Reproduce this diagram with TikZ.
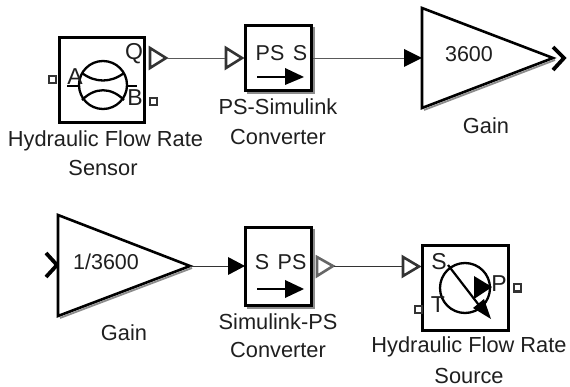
\documentclass[tikz,border=0pt]{standalone}
\usepackage{fontspec}
\setmainfont{Liberation Sans}
\definecolor{ink}{gray}{0.12}
\tikzset{
  lbl/.style={inner sep=0pt,text=ink,font=\fontsize{21.8}{22}\selectfont,align=center},
  inlbl/.style={inner sep=0pt,text=ink,font=\fontsize{21.5}{22}\selectfont},
  symlbl/.style={inner sep=0pt,text=ink,font=\fontsize{23}{24}\selectfont},
  blockbox/.style={draw=black,line width=2.6pt,fill=white,inner sep=0pt,minimum width=#1},
  shade/.style={draw=black!45,line width=1.8pt},
  wire/.style={draw=black!65,line width=0.9pt},
  hollow/.style={draw=black!80,line width=2.6pt,fill=white,line join=miter},
  chevron/.style={draw=black,line width=3.8pt,line join=miter},
  cport/.style={draw=black!80,line width=2pt,fill=white,inner sep=0pt,minimum size=7pt},
  thin symbol/.style={draw=black,line width=2.3pt},
  gainshape/.style={draw=black,line width=2.6pt,fill=white,line join=miter}
}
\begin{document}
\begin{tikzpicture}[x=1pt,y=-1pt]
\useasboundingbox[fill=white] (0,0) rectangle (570,387);
% ---- top row ----
\node[blockbox=85pt,minimum height=85pt] (sensor) at (102,80) {};
\draw[thin symbol] (103,85) circle (24);
\draw[thin symbol] (82,73) .. controls (95,83) and (111,83) .. (124,73);
\draw[thin symbol] (82,100) .. controls (95,87) and (111,87) .. (124,100);
\draw[thin symbol] (67,86) -- (80,86) (127,86) -- (137,86);
\node[symlbl] (sA) at (75,77) {A};
\node[symlbl] (sB) at (135,98) {B};
\node[symlbl] (sQ) at (134,54) {Q};
\node[cport] (sportA) at (52,80) {};
\node[cport] (sportB) at (153,102) {};
\node[lbl] (sensorlabel) at (105.5,141) {Hydraulic Flow Rate};
\node[lbl] (sensorlabelb) at (103,168) {Sensor};
\draw[hollow] (150,48) -- (166,58) -- (150,68) -- cycle;
\coordinate (qout) at (167,58);
\draw[hollow] (226,48) -- (242,58) -- (226,68) -- cycle;
\coordinate (psin) at (225,58);
\draw[wire] (qout) -- (psin);
\draw[shade] (314,27) -- (314,93) -- (247,93);
\node[blockbox=66pt,minimum height=65pt] (pss) at (278.5,58) {};
\node[inlbl] (pssa) at (270,53) {PS};
\node[inlbl] (pssb) at (300,53) {S};
\draw[line width=2pt] (257,77) -- (288,77);
\fill (285,68) -- (304,77) -- (285,85) -- cycle;
\node[lbl] (psslabel) at (278,107) {PS-Simulink};
\node[lbl] (psslabelb) at (278,136.5) {Converter};
\coordinate (pssout) at (313,58);
\coordinate (g1in) at (404,58);
\draw[wire] (pssout) -- (g1in);
\fill (404,49) -- (422,58) -- (404,67) -- cycle;
\draw[black!45,line width=1.8pt] (424,110) -- (555,60);
\draw[gainshape] (422,8) -- (553,58) -- (422,108) -- cycle;
\node[inlbl] (g1) at (469,54) {3600};
\node[lbl] (g1label) at (486,126) {Gain};
\draw[chevron] (553,47) -- (564,58) -- (553,70);
% ---- bottom row ----
\draw[chevron] (46,253) -- (57,265) -- (46,277);
\draw[black!45,line width=1.8pt] (60,318) -- (192,268);
\draw[gainshape] (58,215) -- (190,266) -- (58,316) -- cycle;
\node[inlbl] (g2) at (106,262) {1/3600};
\node[lbl] (g2label) at (124,333) {Gain};
\coordinate (g2out) at (190,266);
\coordinate (spin) at (228,266);
\draw[draw=black!80,line width=0.9pt] (g2out) -- (spin);
\fill (228,257) -- (245,266) -- (228,275) -- cycle;
\draw[shade] (314,229) -- (314,308) -- (247,308);
\node[blockbox=66pt,minimum height=78pt] (sps) at (278.5,266.5) {};
\node[inlbl] (spsa) at (262,262) {S};
\node[inlbl] (spsb) at (292,262) {PS};
\draw[line width=2pt] (257,289) -- (288,289);
\fill (285,280) -- (304,289) -- (285,298) -- cycle;
\node[lbl] (spslabel) at (278,322) {Simulink-PS};
\node[lbl] (spslabelb) at (278,350) {Converter};
\draw[black!60,line width=2.6pt,fill=white,line join=miter] (317,257) -- (333,266) -- (317,276) -- cycle;
\draw[hollow] (403,257) -- (419,266.5) -- (403,276) -- cycle;
\coordinate (spsout) at (334,266);
\coordinate (srcin) at (402,266);
\draw[draw=black!80,line width=0.9pt] (spsout) -- (srcin);
\node[blockbox=86pt,minimum height=85pt] (source) at (465.5,288) {};
\draw[thin symbol] (465,288) circle (25);
\draw[line width=2.2pt] (448,265) -- (485,313);
\fill (491,319) -- (473,308) -- (484,299) -- cycle;
\fill (474,276) -- (492,287) -- (474,299) -- cycle;
\node[symlbl] (srcS) at (439,262) {S};
\node[symlbl] (srcP) at (499,284) {P};
\node[symlbl] (srcT) at (438,305) {T};
\node[cport] (srcportP) at (517,288) {};
\node[cport] (srcportT) at (418,309) {};
\node[lbl] (srclabel) at (469,347) {Hydraulic Flow Rate};
\node[lbl] (srclabelb) at (469,376) {Source};
\end{tikzpicture}
\end{document}
